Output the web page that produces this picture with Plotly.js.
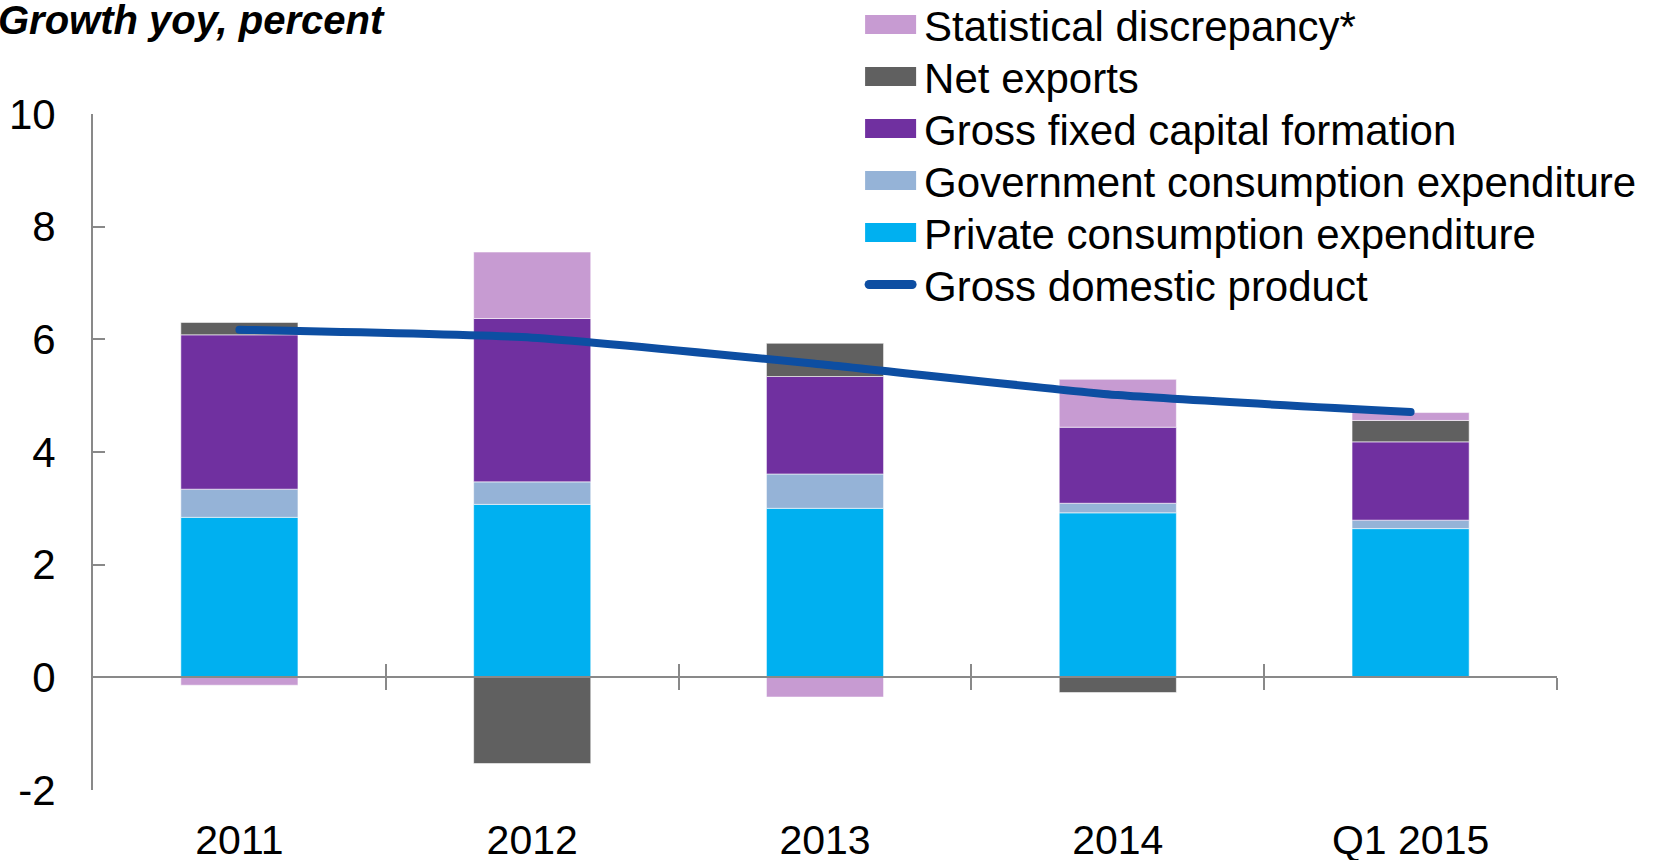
<!DOCTYPE html>
<html>
<head>
<meta charset="utf-8">
<script src="https://cdn.plot.ly/plotly-3.0.1.min.js"></script>
<style>html,body{margin:0;padding:0;background:#fff;}#chart{width:1663px;height:860px;}</style>
</head>
<body>
<div id="chart"></div>
<script>
// ---- data ----
const categories = ['2011', '2012', '2013', '2014', 'Q1 2015'];
const privateConsumption = [2.84, 3.07, 3.00, 2.92, 2.64];
const governmentConsumption = [0.50, 0.40, 0.61, 0.17, 0.15];
const grossFixedCapital = [2.74, 2.90, 1.73, 1.35, 1.39];
const netExports = [0.22, -1.53, 0.59, -0.27, 0.38];
const statisticalDiscrepancy = [-0.14, 1.18, -0.35, 0.85, 0.14];
const gdp = [6.17, 6.03, 5.55, 5.01, 4.71];
const yTickValues = [-2, 0, 2, 4, 6, 8, 10];
const yTickLabels = ['-2', '0', '2', '4', '6', '8', '10'];
const categoryBoundaries = [0.5, 1.5, 2.5, 3.5, 4.5];

const FONT = 'Arial, "Liberation Sans", sans-serif';
const AXIS_GRAY = '#898989';
const sep = {color: 'rgba(255,255,255,0.55)', width: 1};
const colors = {
  pce: '#00B0F0', gov: '#95B3D7', gfcf: '#7030A0', netx: '#606060', stat: '#C79BD2', gdp: '#0D4EA2'
};

function barTrace(name, values, color, rank) {
  return {type: 'bar', name: name, x: categories, y: values,
          marker: {color: color, line: sep}, legendrank: rank, hoverinfo: 'skip'};
}

const traces = [
  barTrace('Private consumption expenditure', privateConsumption, colors.pce, 5),
  barTrace('Government consumption expenditure', governmentConsumption, colors.gov, 4),
  barTrace('Gross fixed capital formation', grossFixedCapital, colors.gfcf, 3),
  barTrace('Net exports', netExports, colors.netx, 2),
  barTrace('Statistical discrepancy*', statisticalDiscrepancy, colors.stat, 1),
  {type: 'scatter', mode: 'lines', name: 'Gross domestic product', x: categories, y: gdp,
   line: {color: colors.gdp, width: 8, shape: 'spline', smoothing: 0.5}, legendrank: 6, hoverinfo: 'skip'},
  // empty helper traces so the two zero-line axes (ticks below / above) are drawn
  {type: 'scatter', mode: 'lines', x: [], y: [], xaxis: 'x2', yaxis: 'y', showlegend: false, hoverinfo: 'skip'},
  {type: 'scatter', mode: 'lines', x: [], y: [], xaxis: 'x3', yaxis: 'y', showlegend: false, hoverinfo: 'skip'}
];

const crossAxis = {
  type: 'linear', range: [-0.5, 4.5], autorange: false, overlaying: 'x', anchor: 'free', position: 2 / 12,
  tickmode: 'array', tickvals: categoryBoundaries, showticklabels: false,
  ticklen: 12, tickwidth: 2, tickcolor: AXIS_GRAY,
  showline: true, linecolor: AXIS_GRAY, linewidth: 2,
  showgrid: false, zeroline: false, fixedrange: true
};

const layout = {
  width: 1663, height: 860,
  margin: {l: 93, r: 106, t: 114, b: 70, autoexpand: false},
  paper_bgcolor: '#ffffff', plot_bgcolor: '#ffffff',
  font: {family: FONT, size: 42, color: '#000000'},
  barmode: 'relative', bargap: 0.6,
  showlegend: true,
  legend: {xref: 'container', yref: 'container', x: 0.516, y: 1, xanchor: 'left', yanchor: 'top',
           bgcolor: 'rgba(0,0,0,0)', font: {family: FONT, size: 42, color: '#000'},
           itemwidth: 56, traceorder: 'normal', tracegroupgap: 0},
  xaxis: {type: 'category', categoryarray: categories, range: [-0.5, 4.5],
          showline: false, ticks: '', showgrid: false, zeroline: false,
          tickfont: {family: FONT, size: 41, color: '#000'}, ticklabelstandoff: 22, fixedrange: true},
  xaxis2: Object.assign({}, crossAxis, {ticks: 'outside'}),
  xaxis3: Object.assign({}, crossAxis, {ticks: 'inside'}),
  yaxis: {range: [-2, 10], tickmode: 'array', tickvals: yTickValues, ticktext: yTickLabels,
          ticks: 'inside', ticklen: 12, tickwidth: 2, tickcolor: AXIS_GRAY,
          showline: true, linecolor: AXIS_GRAY, linewidth: 2,
          showgrid: false, zeroline: false, ticklabelstandoff: 27,
          tickfont: {family: FONT, size: 42, color: '#000'}, fixedrange: true},
  annotations: [{
    text: '<b><i>Growth yoy, percent</i></b>', xref: 'paper', yref: 'paper',
    x: -0.066, y: 1.139, xanchor: 'left', yanchor: 'middle', showarrow: false,
    font: {family: FONT, size: 40, color: '#000'}
  }]
};

const legendOrder = ['stat', 'netx', 'gfcf', 'gov', 'pce', 'gdp'];

Plotly.newPlot('chart', traces, layout, {staticPlot: true, displayModeBar: false}).then(function (gd) {
  // Resize the legend keys and row spacing to the reference style
  const NS = 'http://www.w3.org/2000/svg';
  const leg = gd.querySelector('.legend');
  if (!leg) return;
  const parse = s => { const m = /translate\(\s*([-\d.e]+)[ ,]+([-\d.e]+)\s*\)/.exec(s || ''); return m ? [parseFloat(m[1]), parseFloat(m[2])] : [0, 0]; };
  const lt = parse(leg.getAttribute('transform'));
  const items = Array.from(leg.querySelectorAll('g.traces'));
  items.forEach(function (g, i) {
    const t = parse(g.getAttribute('transform'));
    g.setAttribute('transform', 'translate(' + t[0] + ',' + (24.5 + 52 * i - lt[1]) + ')');
    const txt = g.querySelector('text.legendtext');
    const tx = txt ? (parseFloat(txt.getAttribute('x')) || 66) : 66;
    let trace = null;
    try { const d = g.__data__; trace = (d && d[0] && (d[0].trace || (d[0][0] && d[0][0].trace))) || null; } catch (e) {}
    let isLine, color;
    if (trace) { isLine = trace.type === 'scatter'; color = isLine ? trace.line.color : trace.marker.color; }
    else { const k = legendOrder[i]; isLine = k === 'gdp'; color = colors[k]; }
    const pts = g.querySelector('.legendpoints');
    const lines = g.querySelector('.legendlines');
    if (pts) pts.style.display = 'none';
    if (lines) lines.style.display = 'none';
    if (!isLine) {
      const r = document.createElementNS(NS, 'rect');
      r.setAttribute('x', tx - 8 - 51); r.setAttribute('y', -9.5);
      r.setAttribute('width', 51); r.setAttribute('height', 19);
      r.setAttribute('fill', color);
      g.appendChild(r);
    } else {
      const l = document.createElementNS(NS, 'line');
      l.setAttribute('x1', tx - 8 - 47); l.setAttribute('x2', tx - 8 - 4);
      l.setAttribute('y1', 0); l.setAttribute('y2', 0);
      l.setAttribute('stroke', color); l.setAttribute('stroke-width', 9);
      l.setAttribute('stroke-linecap', 'round');
      g.appendChild(l);
    }
  });
  gd.querySelectorAll('.scatterlayer path.js-line').forEach(p => p.style.strokeLinecap = 'round');
});
</script>
</body>
</html>
